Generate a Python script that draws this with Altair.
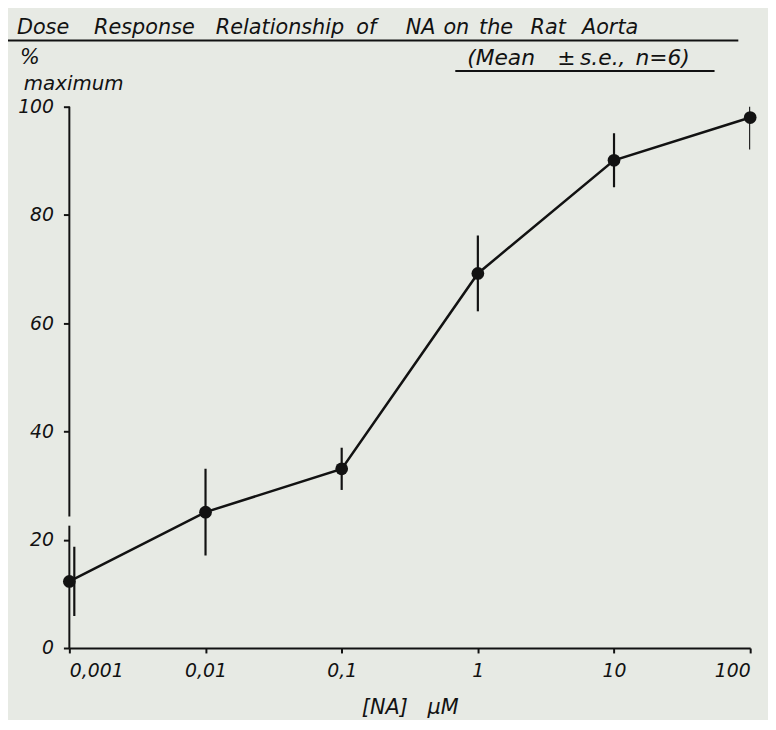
import altair as alt
import pandas as pd

# Data
conc = [0.001, 0.01, 0.1, 1, 10, 100]
mean_pct = [12.3, 25.1, 33.1, 69.2, 90.1, 98.0]
se_pct = [6.4, 8.0, 3.9, 7.0, 5.0, 5.9]

x_ticks = [0.001, 0.01, 0.1, 1, 10, 100]
y_ticks = [0, 20, 40, 60, 80, 100]

# y-axis line as drawn (with its small break between 20 and 40)
axis_seg_lo = [0, 24.3]
axis_seg_hi = [22.6, 100]

title_words = ["Dose", "Response", "Relationship", "of", "NA", "on", "the", "Rat", "Aorta"]
subtitle_parts = ["(Mean", "\u00b1", "s.e.,", "n=6)"]
y_label_1 = "%"
y_label_2 = "maximum"
x_title = "[NA]\u00a0\u00a0\u00a0\u00b5M"

# layout (pixel offsets from the plot's top-left corner)
title_word_px = [-53, 25, 148, 290, 340, 378, 414, 466, 518]
subtitle_part_px = [402, 493, 516, 572]

df = pd.DataFrame({"conc": conc, "mean": mean_pct, "se": se_pct})
df["lo"] = df["mean"] - df["se"]
df["hi"] = df["mean"] + df["se"]
seg = pd.DataFrame({"x": [0.001, 0.001], "lo": axis_seg_lo, "hi": axis_seg_hi})

FONT = "DejaVu Sans"
INK = "#121212"
W, H = 688, 547

xs = alt.Scale(type="log", domain=[0.001, 100], nice=False)
ys = alt.Scale(domain=[0, 100], nice=False)

x_axis = alt.Axis(
    values=x_ticks,
    labelExpr="replace(toString(datum.value), '.', ',')",
    labelFont=FONT, labelFontStyle="italic", labelFontSize=19, labelColor=INK,
    labelPadding=9, tickSize=5, tickColor=INK, tickWidth=2,
    domainColor=INK, domainWidth=2, grid=False,
    title=x_title, titleFont=FONT, titleFontStyle="italic", titleFontSize=21,
    titleFontWeight="normal", titleColor=INK, titlePadding=16,
)
y_axis = alt.Axis(
    values=y_ticks,
    labelFont=FONT, labelFontStyle="italic", labelFontSize=19, labelColor=INK,
    labelPadding=10, tickSize=6, tickColor=INK, tickWidth=2,
    domain=False, grid=False, title=None,
)

base = alt.Chart(df)

yaxis_line = alt.Chart(seg).mark_rule(color=INK, strokeWidth=2).encode(
    x=alt.X("x:Q", scale=xs, axis=x_axis),
    y=alt.Y("lo:Q", scale=ys, axis=y_axis),
    y2="hi:Q",
)
err_first = base.transform_filter("datum.conc < 0.005").mark_rule(
    color=INK, strokeWidth=2.2, clip=True, xOffset=5
).encode(
    x=alt.X("conc:Q", scale=xs),
    y=alt.Y("lo:Q", scale=ys),
    y2="hi:Q",
)
err_rest = base.transform_filter("datum.conc >= 0.005").mark_rule(
    color=INK, strokeWidth=2.2, clip=True
).encode(
    x=alt.X("conc:Q", scale=xs),
    y=alt.Y("lo:Q", scale=ys),
    y2="hi:Q",
)
line = base.mark_line(color=INK, strokeWidth=2.5).encode(
    x=alt.X("conc:Q", scale=xs),
    y=alt.Y("mean:Q", scale=ys),
)
pts = base.mark_circle(color=INK, opacity=1, size=165).encode(
    x=alt.X("conc:Q", scale=xs),
    y=alt.Y("mean:Q", scale=ys),
)


def label(text, x, y, size=21):
    return alt.Chart(pd.DataFrame({"t": [text]})).mark_text(
        font=FONT, fontStyle="italic", fontSize=size, color=INK,
        align="left", baseline="alphabetic",
    ).encode(text="t:N", x=alt.value(x), y=alt.value(y))


def uline(x1, x2, y):
    return alt.Chart(pd.DataFrame({"a": [0]})).mark_rule(
        color=INK, strokeWidth=2
    ).encode(x=alt.value(x1), x2=alt.value(x2), y=alt.value(y))


layers = [yaxis_line, err_first, err_rest, line, pts]
for w, px in zip(title_words, title_word_px):
    layers.append(label(w, px, -73, size=21))
layers.append(uline(-63, 676, -67))
for w, px in zip(subtitle_parts, subtitle_part_px):
    layers.append(label(w, px, -42, size=22))
layers.append(uline(390, 652, -36))
layers.append(label(y_label_1, -50, -43, size=21))
layers.append(label(y_label_2, -46, -17, size=20))

chart = alt.layer(*layers).properties(
    width=W, height=H,
    background="#e7eae4",
    autosize=alt.AutoSizeParams(type="none"),
    padding={"left": 62, "top": 96, "right": 18, "bottom": 69},
).configure_view(stroke=None)

chart.save("out.html", embed_options={"renderer": "svg", "actions": False})
